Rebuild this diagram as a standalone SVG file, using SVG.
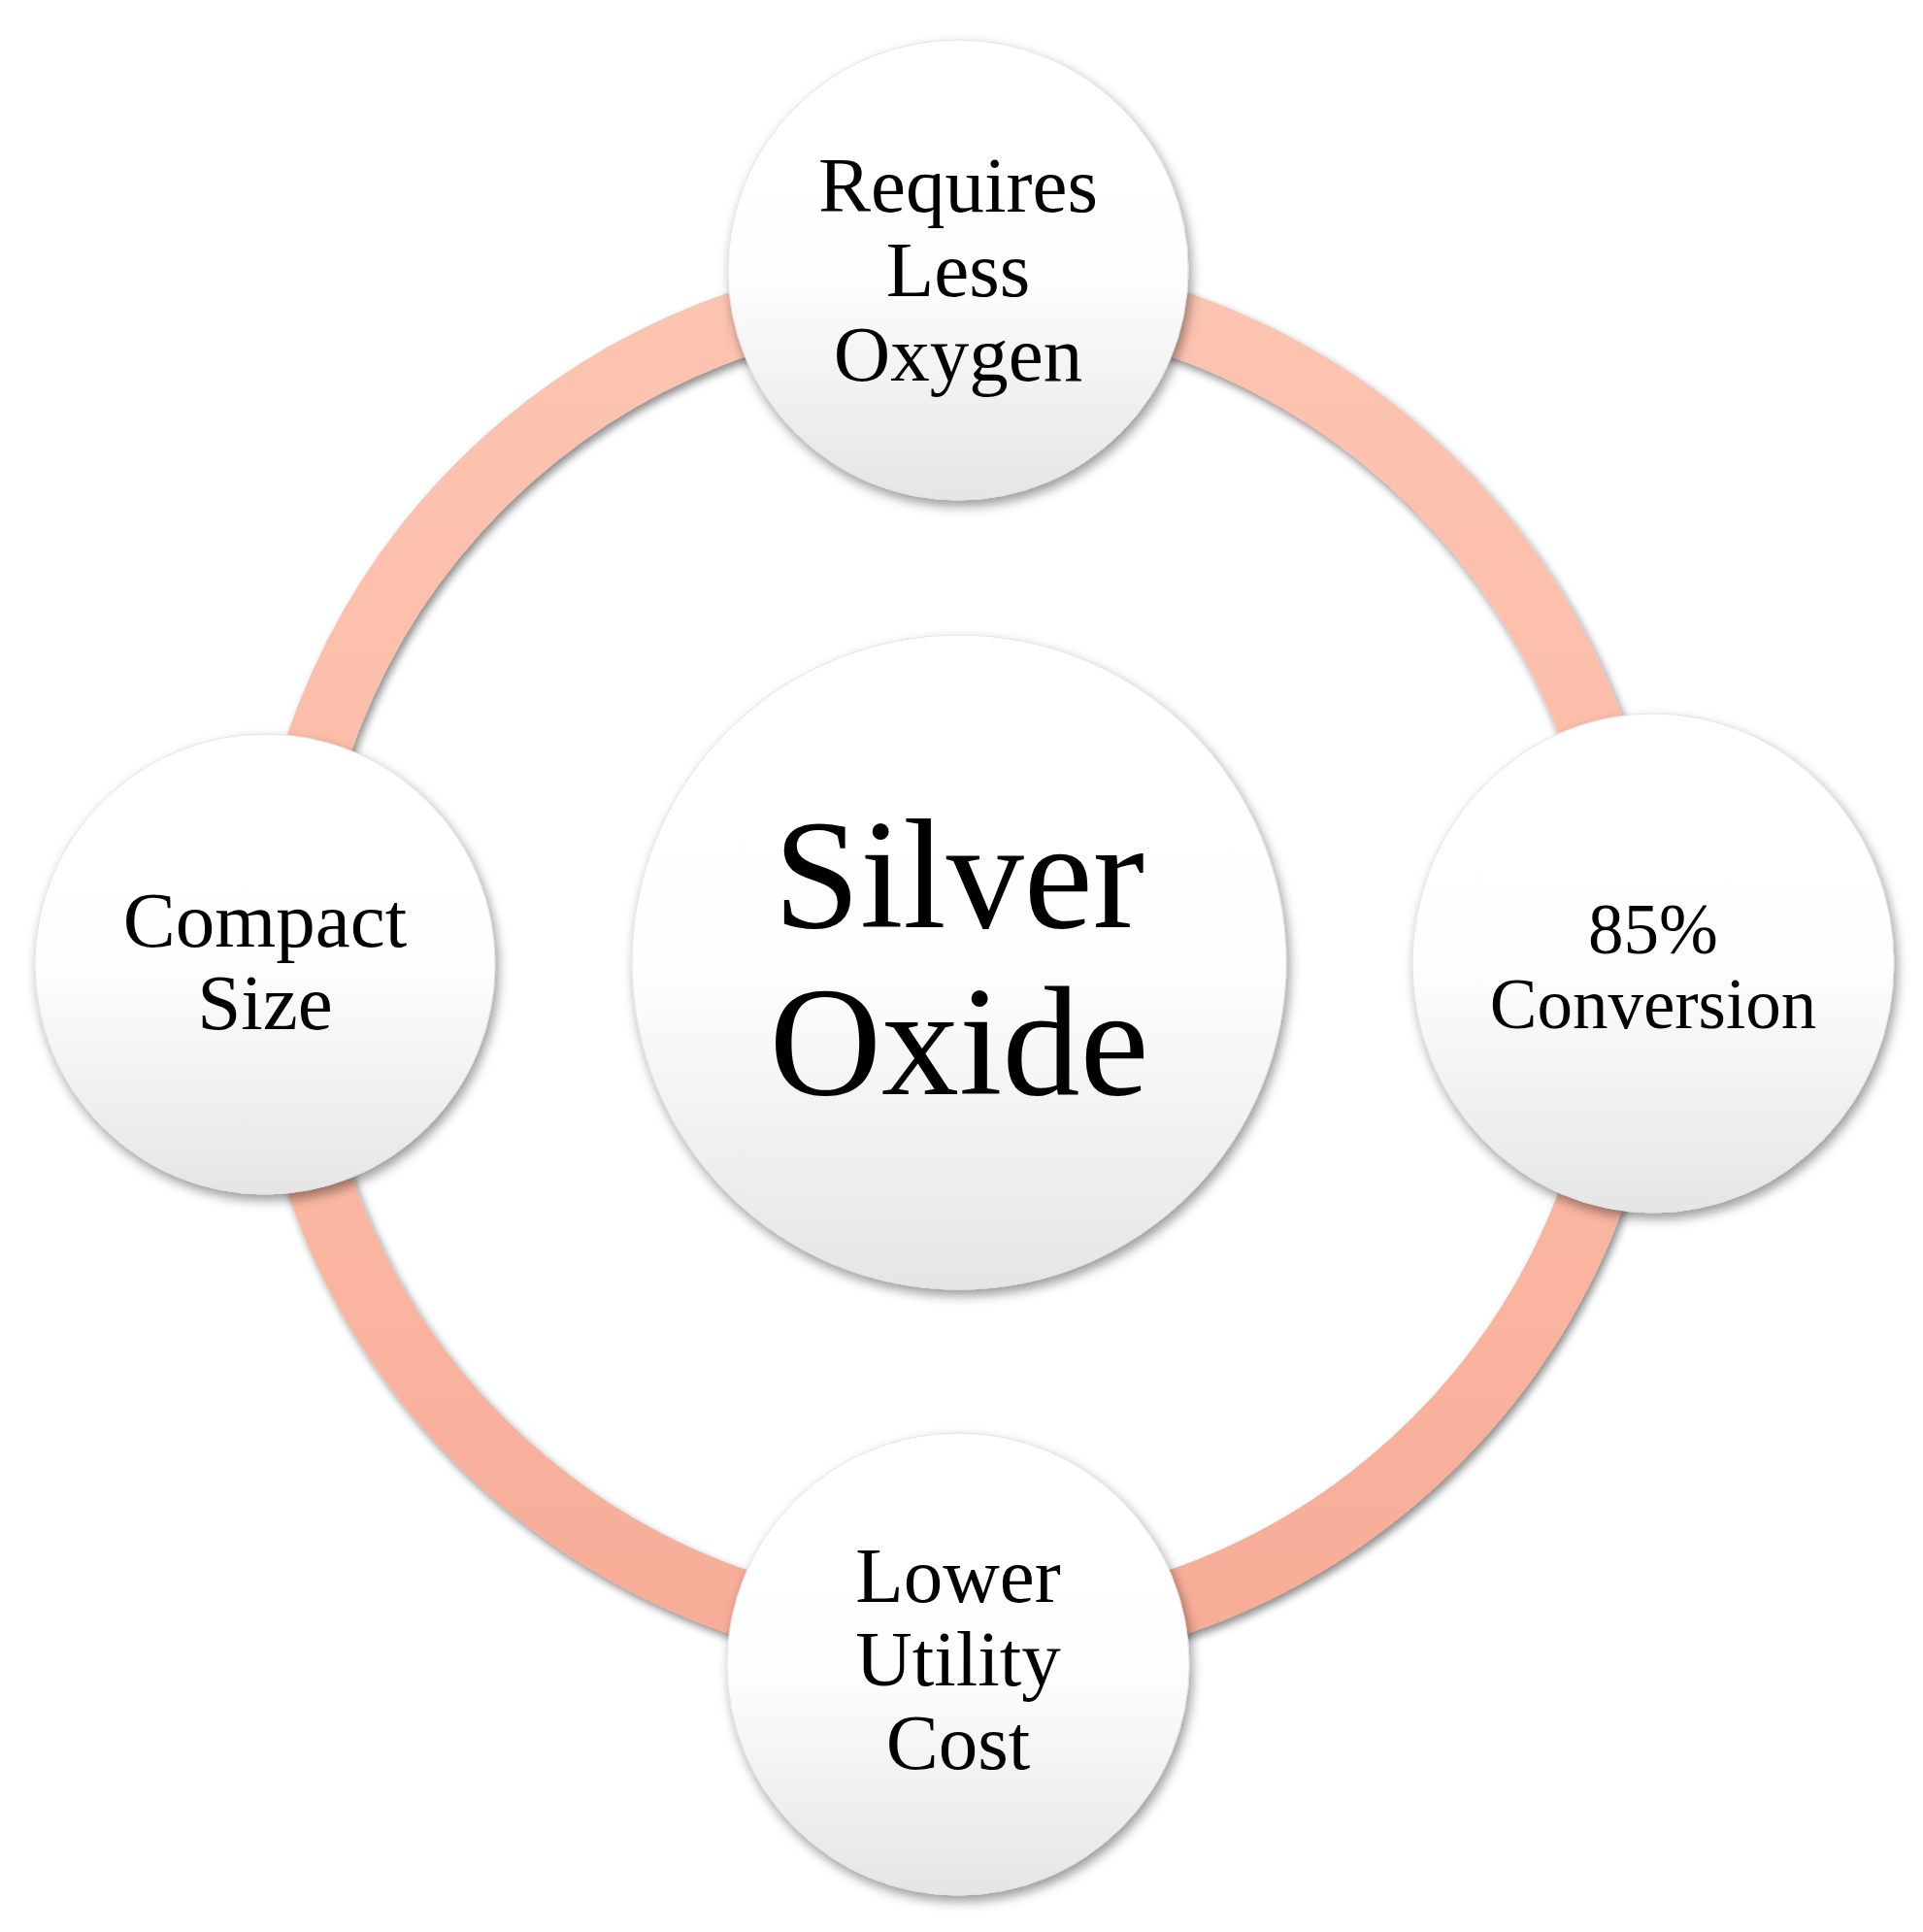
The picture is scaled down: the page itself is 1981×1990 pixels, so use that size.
<svg xmlns="http://www.w3.org/2000/svg" width="1981" height="1990" viewBox="0 0 1981 1990">
<defs>
<linearGradient id="ringGrad" gradientUnits="userSpaceOnUse" x1="0" y1="290" x2="0" y2="1700">
<stop offset="0" stop-color="#FCC4B2"/>
<stop offset="0.5" stop-color="#FCBBA7"/>
<stop offset="1" stop-color="#F7AC97"/>
</linearGradient>
<linearGradient id="ballGrad" x1="0" y1="0" x2="0" y2="1">
<stop offset="0" stop-color="#FFFFFF"/>
<stop offset="0.5" stop-color="#FEFEFE"/>
<stop offset="1" stop-color="#E5E5E5"/>
</linearGradient>
<filter id="shadow" x="-20%" y="-20%" width="140%" height="140%">
<feDropShadow dx="3" dy="6" stdDeviation="6" flood-color="#000" flood-opacity="0.4"/>
</filter>
<filter id="ringShadow" x="-10%" y="-10%" width="120%" height="120%">
<feDropShadow dx="3" dy="5" stdDeviation="4" flood-color="#000" flood-opacity="0.45"/>
</filter>
</defs>
<style>
.ball{fill:url(#ballGrad);stroke:#E2E2E2;stroke-width:1;filter:url(#shadow)}
.t{font-family:"Liberation Serif","Times New Roman",serif;fill:#000;text-anchor:middle}
.s{font-size:81px}
.r{font-size:73px}
.c{font-size:160px}
</style>
<rect width="1981" height="1990" fill="#FFFFFF"/>
<g id="connectors">
<circle cx="987" cy="992" r="696" fill="none" stroke="url(#ringGrad)" stroke-width="68" filter="url(#ringShadow)"/>
</g>
<g id="node-center">
<circle class="ball" cx="988" cy="991" r="337"/>
<text class="t c" x="988" y="955">Silver</text>
<text class="t c" x="988" y="1127">Oxide</text>
</g>
<g id="node-top">
<circle class="ball" cx="987" cy="278" r="237"/>
<text class="t s" x="987" y="218">Requires</text>
<text class="t s" x="987" y="305">Less</text>
<text class="t s" x="987" y="392">Oxygen</text>
</g>
<g id="node-left">
<circle class="ball" cx="273" cy="993" r="237"/>
<text class="t s" x="273" y="975">Compact</text>
<text class="t s" x="273" y="1060">Size</text>
</g>
<g id="node-right">
<ellipse class="ball" cx="1703" cy="992" rx="248" ry="257"/>
<text class="t r" x="1703" y="982">85%</text>
<text class="t r" x="1703" y="1059">Conversion</text>
</g>
<g id="node-bottom">
<circle class="ball" cx="987" cy="1714" r="238"/>
<text class="t s" x="987" y="1650">Lower</text>
<text class="t s" x="987" y="1736">Utility</text>
<text class="t s" x="987" y="1822">Cost</text>
</g>
</svg>
